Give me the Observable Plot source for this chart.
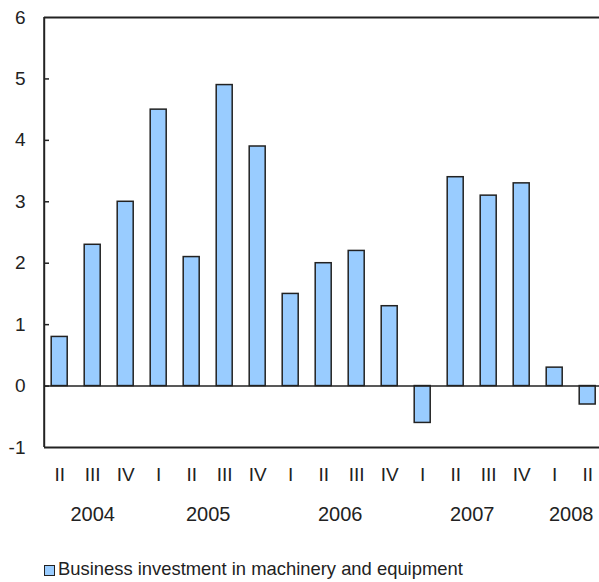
<!DOCTYPE html>
<html>
<head>
<meta charset="utf-8">
<script src="https://cdn.jsdelivr.net/npm/d3@7"></script>
<script src="https://cdn.jsdelivr.net/npm/@observablehq/plot@0.6"></script>
<style>
  body { margin: 0; background: #fff; font-family: "Liberation Sans", Arial, sans-serif; }
  #wrap { position: relative; width: 599px; height: 582px; overflow: hidden; }
  #legend { position: absolute; left: 44px; top: 559px; font-size: 18.4px; line-height: 20px; color: #222; display: flex; align-items: center; white-space: nowrap; }
  #legend .sw { display: inline-block; width: 9px; height: 9px; background: #99ccff; border: 1.5px solid #222; margin-right: 3px; position: relative; top: 1px; }
</style>
</head>
<body>
<div id="wrap">
  <div id="chart"></div>
  <div id="legend"><span class="sw"></span><span id="legendText"></span></div>
</div>
<script>
const quarters = ["II","III","IV","I","II","III","IV","I","II","III","IV","I","II","III","IV","I","II"];
const years    = [2004,2004,2004,2005,2005,2005,2005,2006,2006,2006,2006,2007,2007,2007,2007,2008,2008];
const values   = [0.8,2.3,3.0,4.5,2.1,4.9,3.9,1.5,2.0,2.2,1.3,-0.6,3.4,3.1,3.3,0.3,-0.3];
const yTicks   = [-1,0,1,2,3,4,5,6];
const innerTicks = [0,1,2,3,4,5];
const seriesName = "Business investment in machinery and equipment";

const rows = values.map((v, i) => ({i, quarter: quarters[i], year: years[i], value: v}));
const yearRows = d3.groups(rows, d => d.year).map(([year, rs]) => ({year: String(year), x: d3.mean(rs, r => r.i)}));

const barFill = "#99ccff";
const ink = "#222";

const chart = Plot.plot({
  width: 599,
  height: 530,
  marginLeft: 44,
  marginRight: 0,
  marginTop: 17,
  marginBottom: 83,
  style: {fontFamily: "'Liberation Sans', Arial, sans-serif", color: ink, background: "#fff"},
  x: {type: "linear", domain: [-0.5, rows.length - 0.5], range: [42.7, 603.7], axis: null},
  y: {domain: [-1, 6], axis: null},
  marks: [
    Plot.rectY(rows, {x1: d => d.i - 0.5, x2: d => d.i + 0.5, y1: 0, y2: "value", fill: barFill, stroke: ink, strokeWidth: 1.5, insetLeft: 8.5, insetRight: 8.5}),
    Plot.ruleY([0], {stroke: ink, strokeWidth: 1.5}),
    Plot.ruleY([-1, 6], {stroke: ink, strokeWidth: 2}),
    Plot.ruleX([-0.5], {stroke: ink, strokeWidth: 2, dx: 1}),
    Plot.axisY({ticks: innerTicks, tickSize: -5, tickFormat: () => "", label: null, stroke: ink, strokeWidth: 1.5}),
    Plot.axisY({ticks: yTicks, tickSize: 0, tickPadding: 19, fontSize: 19, tickFormat: d => String(d), label: null, fill: ink}),
    Plot.axisX({ticks: rows.map(d => d.i), tickFormat: i => quarters[i], tickSize: 0, tickPadding: 20, fontSize: 19, label: null, fill: ink}),
    Plot.text(yearRows, {x: "x", y: -1, dy: 67, text: "year", fontSize: 20, fill: ink})
  ]
});
document.getElementById("chart").appendChild(chart);
document.getElementById("legendText").textContent = seriesName;
</script>
</body>
</html>
